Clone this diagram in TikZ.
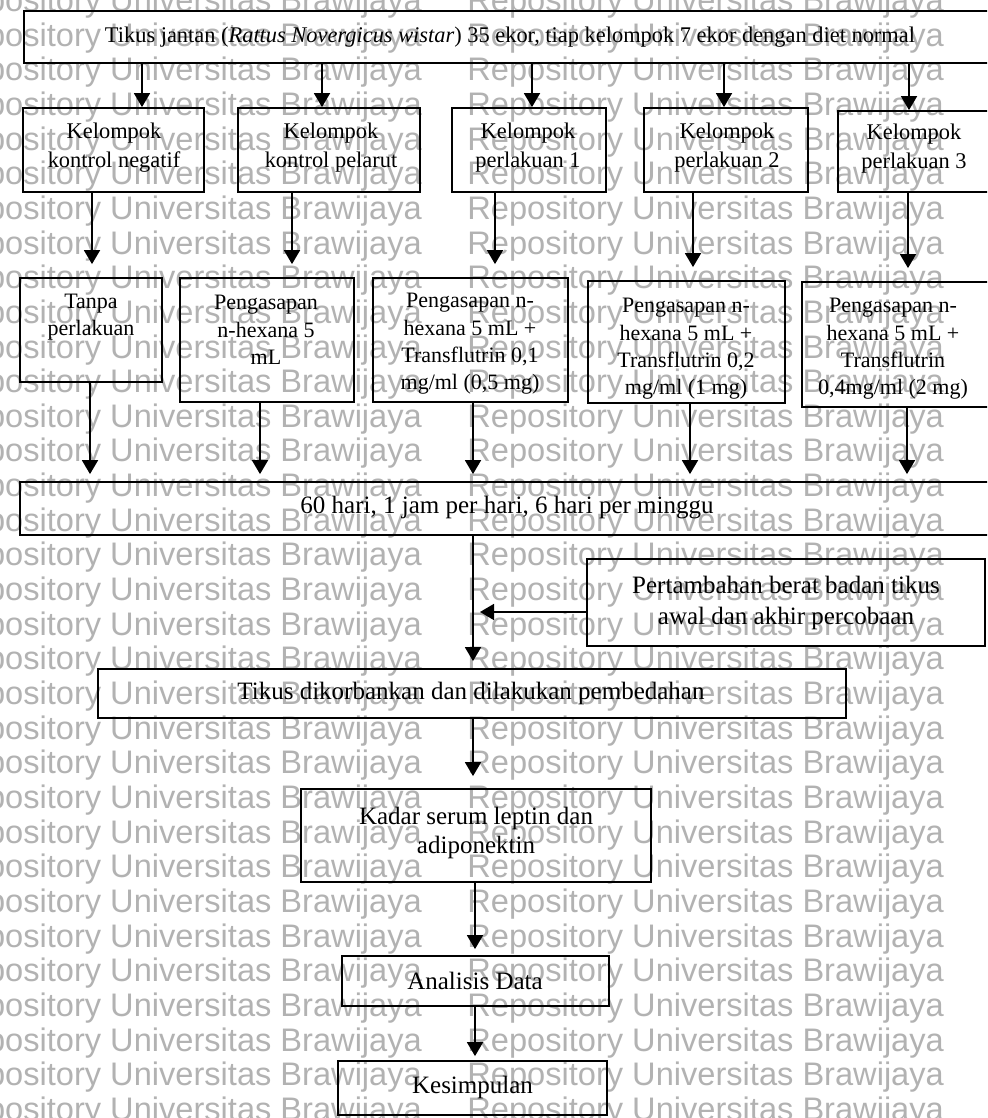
\documentclass[tikz,border=0pt]{standalone}
\usepackage{fontspec}
\setmainfont{Liberation Serif}
\newfontfamily\wmfont{Liberation Sans}
\usetikzlibrary{arrows.meta,fit}

\begin{document}
\begin{tikzpicture}[x=0.5pt,y=-0.5pt,
  box/.style={draw=black, line width=0.9pt, inner sep=0pt, rectangle},
  lbl/.style={inner sep=0pt, align=center, font=\fontsize{12.5}{14.5}\selectfont},
  slbl/.style={inner sep=0pt, align=center, font=\fontsize{11.2}{14.5}\selectfont},
  tlbl/.style={inner sep=0pt, align=center, font=\fontsize{11}{13.7}\selectfont},
  arr/.style={line width=0.9pt, -{Triangle[length=7pt,width=8pt]}},
  wm/.style={inner sep=0pt, anchor=base west, text=black!30,
             font=\wmfont\fontsize{16.3}{18}\selectfont},
]
\useasboundingbox (0,0) rectangle (987,1118);
\clip (0,0) rectangle (987,1118);

% background repository stamp
\foreach \k in {0,...,32}
  \foreach \j in {0,1,2}
    \node[wm] (wm-\k-\j) at ({-55+522*\j},{11.5+34.65*\k}) {Repository Universitas Brawijaya};

% ---- boxes ----
\node[box, fit={(24,11) (1000,63)}] (top) {};
\node[box, fit={(23,108) (204,192)}] (g1) {};
\node[box, fit={(238,108) (420,192)}] (g2) {};
\node[box, fit={(452,108) (606,192)}] (g3) {};
\node[box, fit={(644,108) (808,192)}] (g4) {};
\node[box, fit={(838,111) (1002,192)}] (g5) {};

\node[box, fit={(20,278) (162,382)}] (t1) {};
\node[box, fit={(180,278) (354,402)}] (t2) {};
\node[box, fit={(373,278) (568,402)}] (t3) {};
\node[box, fit={(588,281) (785,403)}] (t4) {};
\node[box, fit={(802,282) (1000,407)}] (t5) {};

\node[box, fit={(20,482) (1000,535)}] (dur) {};
\node[box, fit={(587,559) (985,646)}] (per) {};
\node[box, fit={(98,669) (846,718)}] (bedah) {};
\node[box, fit={(301,789) (651,882)}] (kadar) {};
\node[box, fit={(342,956) (609,1006)}] (anal) {};
\node[box, fit={(338,1061) (607,1115)}] (kes) {};

% ---- texts ----
\node[slbl] (top-t) at (510,37) {Tikus jantan (\textit{Rattus Novergicus wistar}) 35 ekor, tiap kelompok 7 ekor dengan diet normal};
\node[slbl] (g1-t) at (114,147.5) {Kelompok\\kontrol negatif};
\node[slbl] (g2-t) at (331,147.5) {Kelompok\\kontrol pelarut};
\node[slbl] (g3-t) at (528,147.5) {Kelompok\\perlakuan 1};
\node[slbl] (g4-t) at (727,147.5) {Kelompok\\perlakuan 2};
\node[slbl] (g5-t) at (914,149) {Kelompok\\perlakuan 3};

\node[tlbl] (t1-t) at (91,317) {Tanpa\\perlakuan};
\node[tlbl] (t2-t) at (266,330) {Pengasapan\\n-hexana 5\\mL};
\node[tlbl] (t3-t) at (470,344) {Pengasapan n-\\hexana 5 mL +\\Transflutrin 0,1\\mg/ml (0,5 mg)};
\node[tlbl] (t4-t) at (686,349) {Pengasapan n-\\hexana 5 mL +\\Transflutrin 0,2\\mg/ml (1 mg)};
\node[tlbl] (t5-t) at (893,349) {Pengasapan n-\\hexana 5 mL +\\Transflutrin\\0,4mg/ml (2 mg)};

\node[lbl] (dur-t) at (507,508) {60 hari, 1 jam per hari, 6 hari per minggu};
\node[lbl, font=\fontsize{12.5}{15.5}\selectfont] (per-t) at (786,602.5) {Pertambahan berat badan tikus\\awal dan akhir percobaan};
\node[lbl] (bedah-t) at (471,693) {Tikus dikorbankan dan dilakukan pembedahan};
\node[lbl] (kadar-t) at (476,832.5) {Kadar serum leptin dan\\adiponektin};
\node[lbl] (anal-t) at (475,981) {Analisis Data};
\node[lbl] (kes-t) at (472.5,1087) {Kesimpulan};

% ---- connector columns ----
\coordinate (a1) at (142,0);
\coordinate (a2) at (322,0);
\coordinate (a3) at (532,0);
\coordinate (a4) at (724,0);
\coordinate (a5) at (909,0);
\coordinate (b1) at (92,0);
\coordinate (b2) at (292,0);
\coordinate (b3) at (495,0);
\coordinate (b4) at (693,0);
\coordinate (b5) at (908,0);
\coordinate (c1) at (90,0);
\coordinate (c2) at (260,0);
\coordinate (c3) at (473,0);
\coordinate (c4) at (690,0);
\coordinate (c5) at (907,0);
\coordinate (trunk) at (473,0);
\coordinate (lower) at (475,0);
\coordinate (merge) at (480,612);

% population -> groups
\foreach \i in {1,...,5}
  \draw[arr] (a\i |- top.south) -- (a\i |- g\i.north);
% groups -> treatments
\foreach \i in {1,...,5}
  \draw[arr, shorten >=6.5pt] (b\i |- g\i.south) -- (b\i |- t\i.north);
% treatments -> exposure period
\foreach \i in {1,...,5}
  \draw[arr, shorten >=3.5pt] (c\i |- t\i.south) -- (c\i |- dur.north);

% main line
\draw[arr, shorten >=3.5pt] (trunk |- dur.south) -- (trunk |- bedah.north);
\draw[arr] (merge -| per.west) -- (merge);
\draw[arr, shorten >=6pt] (trunk |- bedah.south) -- (trunk |- kadar.north);
\draw[arr, shorten >=3pt] (lower |- kadar.south) -- (lower |- anal.north);
\draw[arr, shorten >=2pt] (lower |- anal.south) -- (lower |- kes.north);
\end{tikzpicture}
\end{document}
